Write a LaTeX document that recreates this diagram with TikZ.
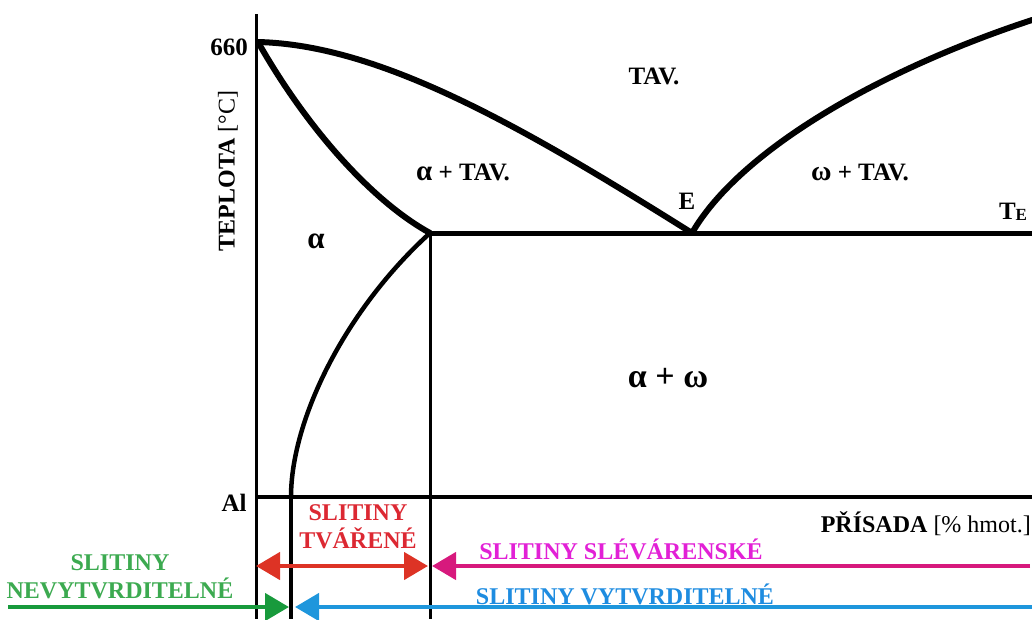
\documentclass[tikz,border=0pt]{standalone}
\usepackage{fontspec}
\setmainfont{Liberation Serif}
\usetikzlibrary{arrows.meta}
\definecolor{redT}{RGB}{220,40,50}
\definecolor{redA}{RGB}{221,51,37}
\definecolor{magT}{RGB}{226,32,214}
\definecolor{magA}{RGB}{215,25,125}
\definecolor{grnT}{RGB}{60,170,80}
\definecolor{grnA}{RGB}{24,154,60}
\definecolor{bluT}{RGB}{30,140,224}
\definecolor{bluA}{RGB}{30,150,220}
\newcommand{\galpha}{{\fontsize{29}{28}\selectfont α}}
\newcommand{\gomega}{{\fontsize{28}{28}\selectfont ω}}
\tikzset{
  lbl/.style={font=\fontsize{25}{28}\selectfont\bfseries, inner sep=0pt},
  blbl/.style={font=\fontsize{24}{28}\selectfont\bfseries, inner sep=0pt},
  axisline/.style={line width=3pt, black},
  phase/.style={line width=6pt, black, line cap=round, line join=round},
  thinv/.style={line width=3pt, black},
  arr/.style={line width=4.5pt, -{Triangle[length=24pt,width=27pt]}},
  darr/.style={line width=4.5pt, {Triangle[length=24pt,width=27pt]}-{Triangle[length=24pt,width=27pt]}},
}
\begin{document}
\begin{tikzpicture}[x=1pt,y=-1pt]
\useasboundingbox (0,0) rectangle (1032,619);
% key points
\coordinate (top) at (258,42);
\coordinate (axT) at (256,14);
\coordinate (axB) at (256,619);
\coordinate (alL) at (256,497);
\coordinate (alR) at (1032,497);
\coordinate (A) at (430,233);
\coordinate (E) at (692,233);
\coordinate (teR) at (1032,233);
\coordinate (liqR) at (1032,20);
\coordinate (sb) at (291,497);
\coordinate (sbB) at (291,619);
\coordinate (vB) at (430,619);
% axes
\draw[axisline] (axT) -- (axB);
\draw[line width=3.5pt] (alL) -- (alR);
% phase lines
\draw[phase] (top) .. controls (380,45) and (520,125) .. (E);
\draw[phase] (E) .. controls (740,150) and (880,70) .. (liqR);
\draw[phase] (top) .. controls (305,125) and (370,200) .. (A);
\draw[line width=5pt] (A) -- (teR);
\draw[line width=4.5pt] (A) .. controls (345,310) and (291,420) .. (sb);
\draw[line width=4pt] (sb) -- (sbB);
\draw[thinv] (A) -- (vB);
% labels
\node[lbl] (l660) at (229,47) {660};
\node[lbl] (lAl) at (234,503) {Al};
\node[lbl] (ltav) at (654,76) {TAV.};
\node[lbl] (latav) at (463,172) {\galpha{} + TAV.};
\node[lbl] (lwtav) at (860,172) {\gomega{} + TAV.};
\node[lbl] (lE) at (687,201) {E};
\node[lbl] (lTE) at (1013,212) {T\raisebox{-0.05em}{\fontsize{17}{17}\selectfont E}};
\node[lbl, font=\fontsize{31}{32}\selectfont\bfseries] (la) at (316,241) {α};
\node[lbl, font=\fontsize{34}{36}\selectfont\bfseries] (law) at (668,378) {α + ω};
\node[blbl, rotate=90] (lteplota) at (228,171) {TEPLOTA \mdseries[°C]};
\node[blbl, anchor=east] (lpris) at (1031,524) {PŘÍSADA \mdseries[\% hmot.]};
% alloy classes
\node[blbl, text=redT, align=center] (ltvar) at (358,527) {SLITINY\\TVÁŘENÉ};
\node[blbl, text=magT] (lslev) at (621,549) {SLITINY SLÉVÁRENSKÉ};
\node[blbl, text=grnT, align=center] (lnev) at (120,577) {SLITINY\\NEVYTVRDITELNÉ};
\node[blbl, text=bluT] (lvyt) at (625,594) {SLITINY VYTVRDITELNÉ};
% arrows
\coordinate (rL) at (256,566);
\coordinate (rR) at (428,566);
\coordinate (mR) at (1030,566);
\coordinate (mL) at (432,566);
\coordinate (gL) at (8,607);
\coordinate (gR) at (289,607);
\coordinate (bR) at (1032,607);
\coordinate (bL) at (295,607);
\draw[darr, redA] (rL) -- (rR);
\draw[arr, magA] (mR) -- (mL);
\draw[arr, grnA] (gL) -- (gR);
\draw[arr, bluA] (bR) -- (bL);
\end{tikzpicture}
\end{document}
